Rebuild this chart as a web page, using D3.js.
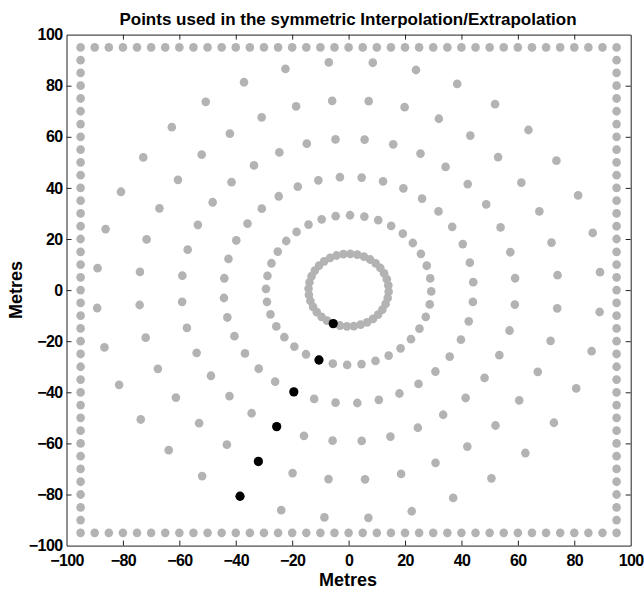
<!DOCTYPE html>
<html>
<head>
<meta charset="utf-8">
<script src="https://cdnjs.cloudflare.com/ajax/libs/d3/7.8.5/d3.min.js"></script>
<style>
  body { margin: 0; background: #fff; }
  text { font-family: "Liberation Sans", Arial, sans-serif; font-weight: bold; fill: #000; }
</style>
</head>
<body>
<div id="chart"></div>
<script>
// border grid of sample points (metres)
var borderCoords = [-95,-90,-85,-80,-75,-70,-65,-60,-55,-50,-45,-40,-35,-30,-25,-20,-15,-10,-5,0,
                    5,10,15,20,25,30,35,40,45,50,55,60,65,70,75,80,85,90,95];
// concentric rings: radius and angular offset, 36 points each
var ringRadii = [14.2, 29.3, 44.3, 59.2, 74.3, 89.4];
var ringPhase = [7.5, -1, 4, 4.5, 4.5, 4.5];
var ringAngles = [0,10,20,30,40,50,60,70,80,90,100,110,120,130,140,150,160,170,
                  180,190,200,210,220,230,240,250,260,270,280,290,300,310,320,330,340,350];
// the highlighted points (one per ring, degrees)
var usedAngle = [247.5, 249, 244, 244.5, 244.5, 244.5];
var tickVals = [-100,-80,-60,-40,-20,0,20,40,60,80,100];

var w = 644, h = 589;
var svg = d3.select("#chart").append("svg")
	.attr("width", w)
	.attr("height", h);

var x = d3.scaleLinear().domain([-100, 100]).range([66.5, 630.7]);
var y = d3.scaleLinear().domain([-100, 100]).range([545.6, 34.6]);

// build point lists
var gray = [];
borderCoords.forEach(function(c){
	gray.push({x: c, y: 95});
	gray.push({x: c, y: -95});
	if (c > -95 && c < 95) {
		gray.push({x: -95, y: c});
		gray.push({x: 95, y: c});
	}
});
ringRadii.forEach(function(r, i){
	ringAngles.forEach(function(a){
		var t = (a + ringPhase[i]) * Math.PI / 180;
		gray.push({x: r * Math.cos(t), y: r * Math.sin(t)});
	});
});
var black = ringRadii.map(function(r, i){
	var t = usedAngle[i] * Math.PI / 180;
	return {x: r * Math.cos(t), y: r * Math.sin(t)};
});

svg.selectAll(".gp")
	.data(gray)
	.enter().append("ellipse")
	.attr("class", "gp")
	.attr("cx", function(d){ return x(d.x); })
	.attr("cy", function(d){ return y(d.y); })
	.attr("rx", 4.3)
	.attr("ry", 4.4)
	.attr("fill", "#b3b3b3");

svg.selectAll(".bp")
	.data(black)
	.enter().append("ellipse")
	.attr("class", "bp")
	.attr("cx", function(d){ return x(d.x); })
	.attr("cy", function(d){ return y(d.y); })
	.attr("rx", 4.6)
	.attr("ry", 4.7)
	.attr("fill", "#000");

// axes, inward ticks on all sides
svg.append("g")
	.attr("transform", "translate(0," + y(-100) + ")")
	.call(d3.axisBottom(x).tickValues(tickVals).tickSize(-5).tickPadding(9).tickSizeOuter(0));
svg.append("g")
	.attr("transform", "translate(0," + y(100) + ")")
	.call(d3.axisTop(x).tickValues(tickVals).tickSize(-5).tickFormat("").tickSizeOuter(0));
svg.append("g")
	.attr("transform", "translate(" + x(-100) + ",0)")
	.call(d3.axisLeft(y).tickValues(tickVals).tickSize(-5).tickPadding(4).tickSizeOuter(0));
svg.append("g")
	.attr("transform", "translate(" + x(100) + ",0)")
	.call(d3.axisRight(y).tickValues(tickVals).tickSize(-5).tickFormat("").tickSizeOuter(0));

svg.selectAll(".domain").attr("stroke", "#222").attr("stroke-width", 1);
svg.selectAll(".tick line").attr("stroke", "#222");
svg.selectAll(".tick text")
	.attr("font-family", "Liberation Sans, Arial, sans-serif")
	.attr("font-weight", "bold")
	.attr("font-size", 16)
	.attr("letter-spacing", -0.6)
	.attr("fill", "#000");
// first and last ticks sit on the box corners
svg.selectAll(".tick line").filter(function(d){ return d === -100 || d === 100; }).remove();

svg.append("text")
	.attr("x", 348)
	.attr("y", 25)
	.attr("text-anchor", "middle")
	.attr("font-size", 17)
	.text("Points used in the symmetric Interpolation/Extrapolation");

svg.append("text")
	.attr("x", 348)
	.attr("y", 586)
	.attr("text-anchor", "middle")
	.attr("font-size", 18)
	.text("Metres");

svg.append("text")
	.attr("transform", "translate(22,290) rotate(-90)")
	.attr("text-anchor", "middle")
	.attr("font-size", 18)
	.text("Metres");
</script>
</body>
</html>
